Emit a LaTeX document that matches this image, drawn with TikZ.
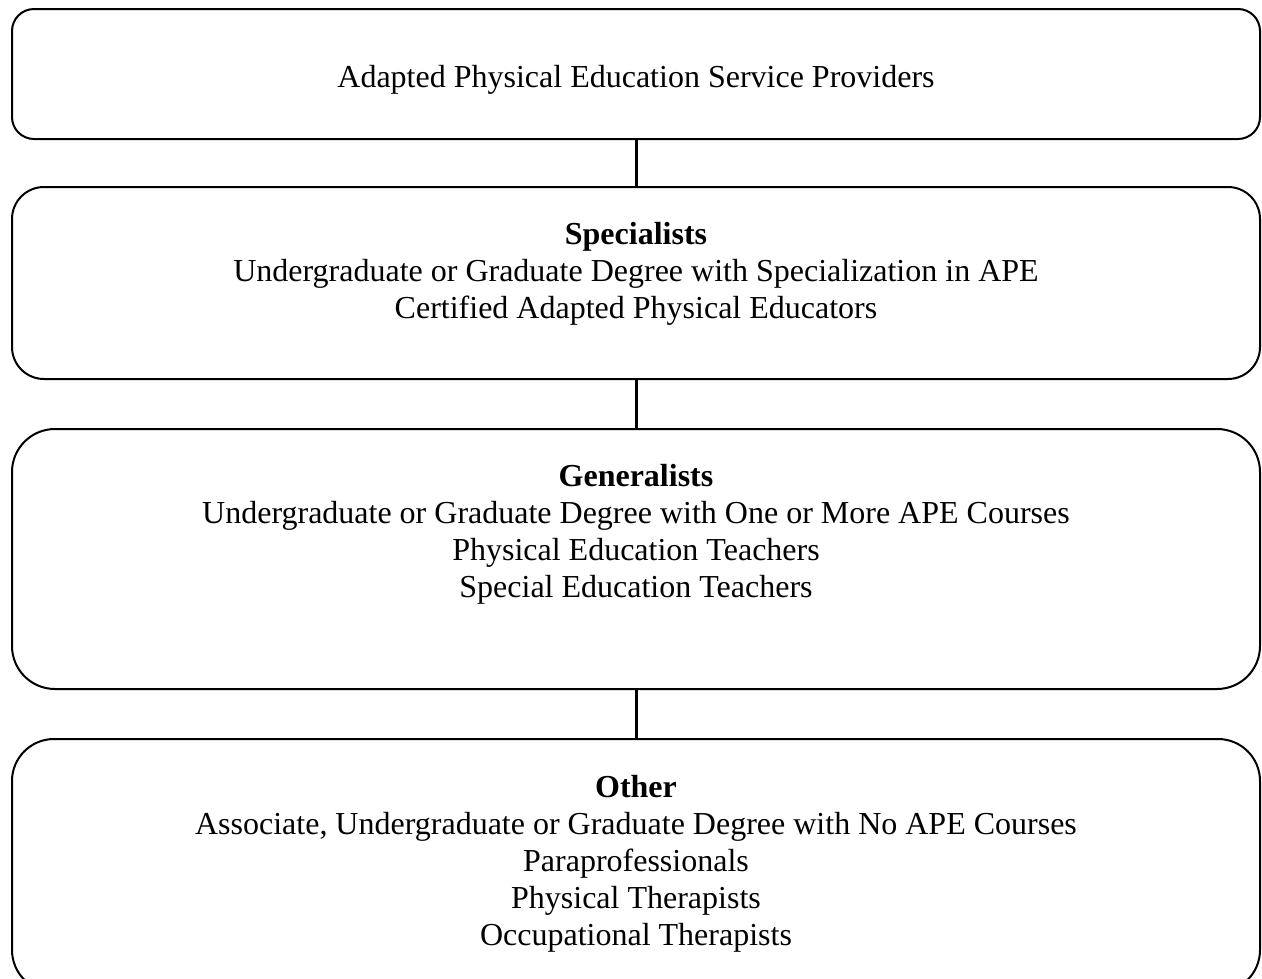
\documentclass[tikz,border=0pt]{standalone}
\usepackage{fontspec}
\setmainfont{Liberation Serif}
\usetikzlibrary{positioning}
\tikzset{provider box/.style={
    draw,
    line width=2pt,
    rounded corners=#1,
    minimum width=1248pt,
    inner sep=0pt
  },
  provider box/.default=22pt,
  provider text/.style={
    align=center,
    inner sep=0pt,
    font=\fontsize{32}{37}\selectfont
  },
  link/.style={line width=3pt}
}

\begin{document}
\begin{tikzpicture}[x=1pt,y=-1pt]
    \useasboundingbox (0,0) rectangle (1262,978);
    % four levels of providers, stacked
    \node[provider box, minimum height=130pt] (providers) at (636,74) {};
    \node[provider box=32pt, minimum height=192pt, below=46pt of providers] (specialists) {};
    \node[provider box=43pt, minimum height=260pt, below=48pt of specialists] (generalists) {};
    \node[provider box=42pt, minimum height=253pt, below=48pt of generalists] (other) {};

    \node[provider text, below=57pt of providers.north] (providers text)
        {Adapted Physical Education Service Providers};
    \node[provider text, below=36pt of specialists.north] (specialists text)
        {\textbf{Specialists}\\
         Undergraduate or Graduate Degree with Specialization in APE\\
         Certified Adapted Physical Educators};
    \node[provider text, below=36pt of generalists.north] (generalists text)
        {\textbf{Generalists}\\
         Undergraduate or Graduate Degree with One or More APE Courses\\
         Physical Education Teachers\\
         Special Education Teachers};
    \node[provider text, below=37pt of other.north] (other text)
        {\textbf{Other}\\
         Associate, Undergraduate or Graduate Degree with No APE Courses\\
         Paraprofessionals\\
         Physical Therapists\\
         Occupational Therapists};

    \draw[link] (providers.south) -- (specialists.north);
    \draw[link] (specialists.south) -- (generalists.north);
    \draw[link] (generalists.south) -- (other.north);
\end{tikzpicture}
\end{document}
